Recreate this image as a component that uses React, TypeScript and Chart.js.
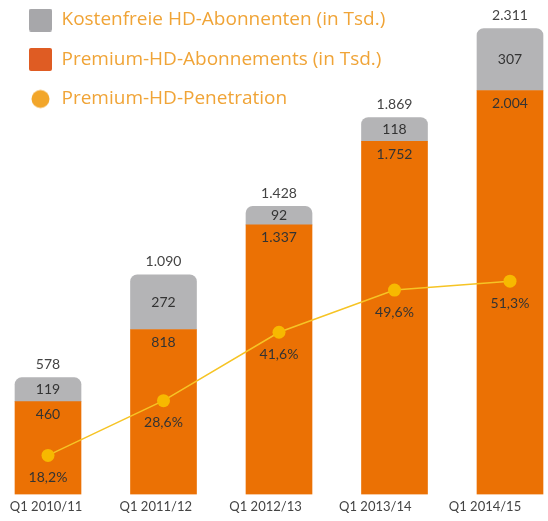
import React, { useEffect, useRef } from 'react';
import { Chart, registerables } from 'chart.js';

Chart.register(...registerables);

const CATEGORIES = ['Q1 2010/11', 'Q1 2011/12', 'Q1 2012/13', 'Q1 2013/14', 'Q1 2014/15'];
const FREE_HD = [119, 272, 92, 118, 307];
const PREMIUM_HD = [460, 818, 1337, 1752, 2004];
const TOTALS = [578, 1090, 1428, 1869, 2311];
const PENETRATION = [18.2, 28.6, 41.6, 49.6, 51.3];

const SERIES_NAMES = [
  'Kostenfreie HD-Abonnenten (in Tsd.)',
  'Premium-HD-Abonnements (in Tsd.)',
  'Premium-HD-Penetration',
];

const fmt = (v: number) => String(v).replace(/\B(?=(\d{3})+(?!\d))/g, '.');
const pct = (v: number) => v.toFixed(1).replace('.', ',') + '%';

function makeMarker(kind: 'square' | 'circle', color: string) {
  const c = document.createElement('canvas');
  c.width = 23;
  c.height = 23;
  const ctx = c.getContext('2d')!;
  ctx.fillStyle = color;
  ctx.beginPath();
  if (kind === 'circle') {
    ctx.arc(11.5, 11.5, 9, 0, Math.PI * 2);
  } else {
    ctx.roundRect(0, 0, 23, 23, 2);
  }
  ctx.fill();
  return c;
}

const valueLabels = {
  id: 'valueLabels',
  afterDatasetsDraw(chart: any) {
    const ctx = chart.ctx;
    const freeMeta = chart.getDatasetMeta(0);
    const premMeta = chart.getDatasetMeta(1);
    const penMeta = chart.getDatasetMeta(2);
    ctx.save();
    ctx.textAlign = 'center';
    ctx.textBaseline = 'middle';
    CATEGORIES.forEach((_, i) => {
      const f = freeMeta.data[i];
      const p = premMeta.data[i];
      const pt = penMeta.data[i];
      ctx.font = '14px Lato';
      ctx.fillStyle = '#333333';
      ctx.fillText(fmt(FREE_HD[i]), f.x, (f.y + f.base) / 2);
      ctx.fillText(fmt(PREMIUM_HD[i]), p.x, p.y + 13);
      ctx.fillText(pct(PENETRATION[i]), pt.x, pt.y + 22);
      ctx.fillStyle = '#444444';
      ctx.fillText(fmt(TOTALS[i]), f.x, f.y - 13);
    });
    ctx.restore();
  },
};

export default function App() {
  const ref = useRef<HTMLCanvasElement>(null);

  useEffect(() => {
    if (!ref.current) return;
    const markers = [
      makeMarker('square', '#A7A7AA'),
      makeMarker('square', '#DF5C23'),
      makeMarker('circle', '#F2A62A'),
    ];
    const chart = new Chart(ref.current, {
      type: 'bar',
      data: {
        datasets: [
          {
            type: 'bar',
            label: SERIES_NAMES[0],
            data: FREE_HD.map((v, i) => ({ x: i, y: v })),
            backgroundColor: '#B4B4B6',
            borderRadius: { topLeft: 7, topRight: 7, bottomLeft: 0, bottomRight: 0 },
            borderSkipped: false,
            barThickness: 66,
            yAxisID: 'y',
            xAxisID: 'x',
            order: 2,
          },
          {
            type: 'bar',
            label: SERIES_NAMES[1],
            data: PREMIUM_HD.map((v, i) => ({ x: i, y: v })),
            backgroundColor: '#EB7104',
            barThickness: 66,
            yAxisID: 'y',
            xAxisID: 'x',
            order: 1,
          },
          {
            type: 'line',
            label: SERIES_NAMES[2],
            data: PENETRATION.map((v, i) => ({ x: i, y: v })),
            borderColor: '#F6C425',
            borderWidth: 1.5,
            pointRadius: 6.5,
            pointBackgroundColor: '#F7B900',
            pointBorderWidth: 0,
            tension: 0,
            yAxisID: 'y2',
            xAxisID: 'x',
            order: 0,
          },
        ] as any,
      },
      options: {
        animation: false,
        responsive: false,
        layout: { autoPadding: false, padding: { top: 0, left: 8.5, right: 0, bottom: 2 } },
        scales: {
          x: {
            type: 'linear',
            display: false,
            stacked: true,
            offset: false,
            min: -0.342,
            max: 4.329,
          },
          xl: {
            type: 'linear',
            position: 'bottom',
            offset: false,
            min: -0.342,
            max: 4.574,
            grid: { display: false, drawTicks: false, offset: false },
            border: { display: false },
            afterBuildTicks: (axis: any) => {
              axis.ticks = CATEGORIES.map((_, i) => ({ value: i }));
            },
            afterFit: (axis: any) => {
              axis.paddingLeft = 0;
              axis.paddingRight = 0;
            },
            ticks: {
              padding: 4.5,
              autoSkip: false,
              maxRotation: 0,
              color: '#444444',
              font: { family: 'Lato', size: 13 },
              callback: (v: any) => CATEGORIES[v as number] ?? '',
            },
          },
          y: {
            type: 'linear',
            display: false,
            stacked: true,
            min: 0,
            max: 2453,
          },
          y2: {
            type: 'linear',
            display: false,
            min: 10.8,
            max: 104.7,
          },
        },
        plugins: {
          tooltip: { enabled: false },
          legend: {
            position: 'chartArea' as any,
            align: 'start',
            title: {
              display: true,
              text: '',
              font: { size: 10, lineHeight: 1 },
              padding: { top: 0, bottom: -20 },
            },
            labels: {
              usePointStyle: true,
              pointStyleWidth: 23,
              boxHeight: 23,
              padding: 20.5,
              color: '#F0A437',
              font: { family: 'Open Sans', size: 19 },
              generateLabels: (c: any) =>
                c.data.datasets.map((ds: any, i: number) => ({
                  text: ds.label,
                  pointStyle: markers[i],
                  fillStyle: 'transparent',
                  strokeStyle: 'transparent',
                  lineWidth: 0,
                  hidden: false,
                  datasetIndex: i,
                  fontColor: '#F0A437',
                })),
            },
          },
        },
      },
      plugins: [valueLabels],
    } as any);
    return () => chart.destroy();
  }, []);

  return (
    <div style={{ position: 'fixed', left: 0, top: 0, width: 548, height: 521, background: '#fff' }}>
      <canvas ref={ref} width={548} height={521} />
    </div>
  );
}
